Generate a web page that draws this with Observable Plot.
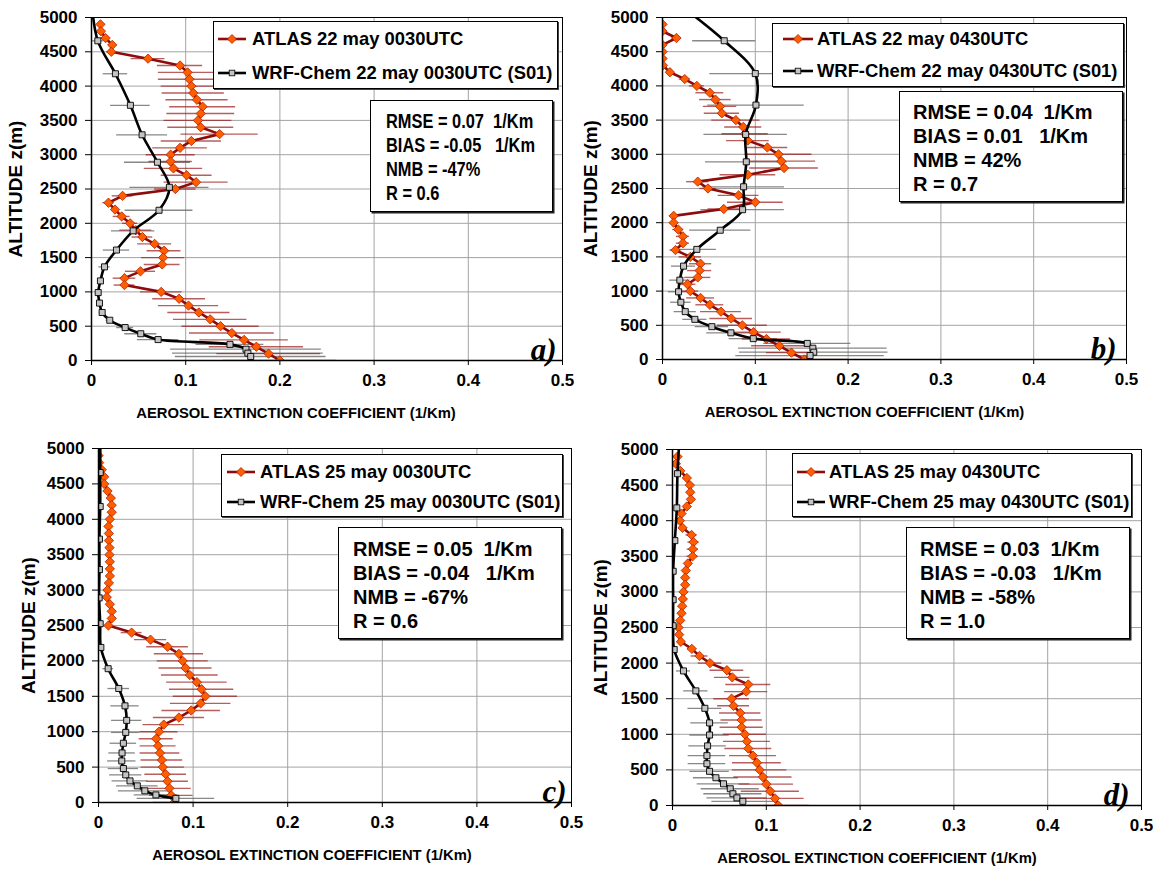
<!DOCTYPE html>
<html><head><meta charset="utf-8">
<script src="https://cdn.jsdelivr.net/npm/d3@7"></script>
<script src="https://cdn.jsdelivr.net/npm/@observablehq/plot@0.6"></script>
<style>
body{margin:0;background:#fff;}
#root{position:relative;width:1163px;height:874px;overflow:hidden;font-family:"Liberation Sans",Arial,sans-serif;font-weight:bold;color:#000;}
.panel{position:absolute;}
.box{position:absolute;background:#fff;border:1px solid #000;box-sizing:border-box;}
.legtxt{position:absolute;white-space:nowrap;font-size:18.4px;line-height:20px;}
.legsym{position:absolute;}
.stat{position:absolute;white-space:pre;font-size:20px;line-height:24px;transform-origin:0 50%;}
</style></head><body><div id="root"></div>
<script>
// ---------- data ----------
const xTicks = [0, 0.1, 0.2, 0.3, 0.4, 0.5];
const yTicks = [0, 500, 1000, 1500, 2000, 2500, 3000, 3500, 4000, 4500, 5000];

const atlasAlt = [4900,4800,4700,4600,4500,4400,4300,4200,4100,4000,3900,3800,3700,3600,3500,3400,3300,3200,3100,3000,2900,2800,2700,2600,2500,2400,2300,2200,2100,2000,1900,1800,1700,1600,1500,1400,1300,1200,1100,1000,900,800,700,600,500,400,300,200,100,0];
const wrfAlt = [5150,4660,4180,3720,3290,2890,2525,2190,1890,1610,1365,1160,990,837,700,587,480,390,305,235,165,107,58];

// panel a) 22 may 0030UTC
const atlasA = [0.0095,0.010,0.015,0.022,0.021,0.060,0.094,0.102,0.104,0.106,0.108,0.112,0.118,0.116,0.113,0.116,0.136,0.106,0.094,0.084,0.084,0.087,0.101,0.111,0.089,0.033,0.018,0.025,0.032,0.041,0.047,0.054,0.067,0.077,0.076,0.075,0.052,0.035,0.035,0.074,0.093,0.103,0.114,0.126,0.137,0.149,0.162,0.175,0.188,0.200];
const atlasErrA = [0.003,0.003,0.004,0.004,0.005,0.018,0.024,0.031,0.033,0.032,0.033,0.033,0.035,0.036,0.036,0.035,0.041,0.032,0.029,0.026,0.023,0.031,0.027,0.034,0.022,0.011,0.006,0.004,0.009,0.008,0.017,0.011,0.018,0.018,0.023,0.019,0.016,0.012,0.011,0.022,0.028,0.032,0.033,0.039,0.041,0.045,0.047,0.050,0.055,0.060];
const wrfA = [0.0007,0.0067,0.0254,0.0413,0.0537,0.070,0.0827,0.0717,0.0442,0.0265,0.0138,0.0095,0.0071,0.0085,0.0113,0.0194,0.0357,0.0523,0.0707,0.147,0.164,0.166,0.169];
const wrfErrA = [0,0.006,0.013,0.021,0.027,0.035,0.042,0.036,0.023,0.014,0.006,0.003,0.002,0.002,0.003,0.004,0.009,0.017,0.022,0.036,0.080,0.080,0.080];

// panel b) 22 may 0430UTC
const atlasB = [0,0,0.015,0,0,0,0.0005,0.008,0.024,0.037,0.051,0.057,0.062,0.064,0.079,0.087,0.089,0.092,0.113,0.125,0.128,0.131,0.092,0.038,0.049,0.082,0.100,0.066,0.012,0.012,0.017,0.022,0.022,0.014,0.030,0.041,0.040,0.038,0.027,0.030,0.041,0.051,0.063,0.074,0.086,0.098,0.112,0.126,0.139,0.153];
const atlasErrB = [0.001,0.001,0.005,0.001,0.001,0.001,0.002,0.004,0.006,0.008,0.015,0.017,0.018,0.019,0.026,0.020,0.025,0.023,0.022,0.036,0.037,0.037,0.030,0.012,0.009,0.022,0.030,0.017,0.004,0.004,0.006,0.007,0.007,0.006,0.012,0.012,0.013,0.014,0.009,0.009,0.015,0.015,0.022,0.023,0.027,0.030,0.026,0.030,0.027,0.047];
const wrfB = [0.022,0.0665,0.100,0.1007,0.0896,0.0903,0.0874,0.0863,0.0622,0.037,0.0227,0.0187,0.0173,0.0198,0.0245,0.0349,0.0532,0.0737,0.0978,0.156,0.162,0.163,0.159];
const wrfErrB = [0,0.034,0.049,0.052,0.045,0.044,0.044,0.045,0.033,0.021,0.013,0.011,0.011,0.011,0.012,0.013,0.018,0.026,0.026,0.047,0.080,0.080,0.080];

// panel c) 25 may 0030UTC
const atlasC = [0,0.0007,0.0035,0.006,0.006,0.0095,0.013,0.014,0.014,0.012,0.0105,0.011,0.011,0.0116,0.0116,0.012,0.012,0.012,0.011,0.0095,0.0088,0.012,0.014,0.014,0.0105,0.035,0.055,0.073,0.085,0.089,0.092,0.0965,0.104,0.109,0.113,0.108,0.098,0.085,0.069,0.064,0.061,0.063,0.065,0.067,0.068,0.071,0.073,0.075,0.077,0.080];
const atlasErrC = [0.002,0.002,0.003,0.003,0.003,0.004,0.004,0.004,0.004,0.003,0.003,0.003,0.003,0.003,0.003,0.003,0.003,0.003,0.003,0.003,0.003,0.003,0.003,0.003,0.003,0.011,0.017,0.022,0.026,0.027,0.028,0.030,0.032,0.034,0.034,0.032,0.031,0.027,0.022,0.020,0.018,0.019,0.021,0.022,0.023,0.022,0.022,0.023,0.023,0.022];
const wrfC = [0.002,0.0018,0.0018,0.001,0.001,0.0007,0.0018,0.0025,0.0102,0.0214,0.028,0.0298,0.0288,0.0263,0.0249,0.0246,0.0263,0.0288,0.0333,0.041,0.049,0.0607,0.0818];
const wrfErrC = [0,0.001,0.001,0.001,0.001,0.001,0.001,0.001,0.0056,0.0114,0.015,0.016,0.015,0.014,0.014,0.015,0.016,0.017,0.019,0.022,0.028,0.023,0.041];

// panel d) 25 may 0430UTC
const atlasD = [0.0053,0.0036,0.0082,0.0153,0.0185,0.0189,0.0196,0.0153,0.0096,0.0078,0.0107,0.0203,0.0224,0.0217,0.0214,0.0164,0.0142,0.0135,0.0135,0.0117,0.011,0.0103,0.0096,0.0082,0.0064,0.0071,0.0089,0.0206,0.0288,0.040,0.058,0.0637,0.0808,0.0786,0.063,0.0651,0.0722,0.0737,0.0737,0.0772,0.0794,0.0808,0.0858,0.090,0.0929,0.0964,0.100,0.1043,0.1093,0.1128];
const atlasErrD = [0.003,0.003,0.003,0.003,0.003,0.003,0.003,0.003,0.003,0.003,0.004,0.006,0.006,0.006,0.006,0.003,0.002,0.002,0.002,0.002,0.002,0.002,0.002,0.002,0.002,0.002,0.002,0.0045,0.009,0.0125,0.018,0.019,0.024,0.023,0.019,0.017,0.022,0.022,0.023,0.023,0.025,0.025,0.025,0.026,0.029,0.031,0.029,0.031,0.031,0.033];
const wrfD = [0.0075,0.0053,0.0046,0.0025,0.0007,0.0007,0.0007,0.0018,0.0117,0.0249,0.0345,0.0395,0.0395,0.0374,0.0367,0.0367,0.0395,0.0463,0.0544,0.0616,0.0644,0.0687,0.075];
const wrfErrD = [0,0.001,0.001,0.002,0.001,0.001,0.001,0.001,0.0075,0.013,0.018,0.020,0.021,0.020,0.020,0.020,0.021,0.024,0.028,0.031,0.031,0.032,0.033];

const atlasLabels = ["ATLAS 22 may 0030UTC","ATLAS 22 may 0430UTC","ATLAS 25 may 0030UTC","ATLAS 25 may 0430UTC"];
const wrfLabels = ["WRF-Chem 22 may 0030UTC (S01)","WRF-Chem 22 may 0430UTC (S01)","WRF-Chem 25 may 0030UTC (S01)","WRF-Chem 25 may 0430UTC (S01)"];
const statsLines = [
  ["RMSE = 0.07  1/Km","BIAS = -0.05   1/Km","NMB = -47%","R = 0.6"],
  ["RMSE = 0.04  1/Km","BIAS = 0.01   1/Km","NMB = 42%","R = 0.7"],
  ["RMSE = 0.05  1/Km","BIAS = -0.04   1/Km","NMB = -67%","R = 0.6"],
  ["RMSE = 0.03  1/Km","BIAS = -0.03   1/Km","NMB = -58%","R = 1.0"]
];
const panelLetters = ["a)","b)","c)","d)"];
const xTitle = "AEROSOL EXTINCTION COEFFICIENT (1/Km)";
const yTitle = "ALTITUDE z(m)";

// ---------- layout ----------
const layouts = [
  {left:0,top:0,w:580,h:430,ml:91,mr:18,mt:17,mb:70,xdx:-31,ydx:-76,ldx:-6,ldy:-1,
   leg:{x:213,y:21,w:345,h:68,r1:39,r2:73,sx:218,sw:28,tx:252},
   st:{x:370,y:100,w:183,h:112,tx:386,sx:0.82,rows:[121,145,169,193]}},
  {left:580,top:0,w:583,h:430,ml:82,mr:37,mt:17,mb:71,xdx:-30,ydx:-72,ldx:-10,ldy:-1,
   leg:{x:772,y:23,w:352,h:64,r1:39,r2:71,sx:783,sw:30,tx:817},
   st:{x:899,y:91,w:224,h:111,tx:913,sx:1,rows:[112,136,160,184]}},
  {left:0,top:430,w:580,h:444,ml:98,mr:9,mt:18,mb:72,xdx:-23,ydx:-70,ldx:-5,ldy:-1,
   leg:{x:221,y:454,w:342,h:63,r1:472,r2:502,sx:227,sw:28,tx:260},
   st:{x:338,y:527,w:224,h:112,tx:353,sx:1,rows:[549,573,597,621]}},
  {left:580,top:430,w:583,h:444,ml:92,mr:22,mt:19,mb:69,xdx:-30,ydx:-72,ldx:-12,ldy:-1,
   leg:{x:792,y:453,w:340,h:64,r1:472,r2:502,sx:797,sw:28,tx:829},
   st:{x:906,y:527,w:224,h:112,tx:920,sx:1,rows:[549,573,597,621]}}
];
const series = [
  [atlasA, atlasErrA, wrfA, wrfErrA],
  [atlasB, atlasErrB, wrfB, wrfErrB],
  [atlasC, atlasErrC, wrfC, wrfErrC],
  [atlasD, atlasErrD, wrfD, wrfErrD]
];

const RED = "#8c0c0c", ORANGE = "#ff5e00", GRID = "#a3a3a3";
const root = document.getElementById("root");

series.forEach(([av, ae, wv, we], k) => {
  const L = layouts[k];
  const atlas = atlasAlt.map((alt, i) => ({alt, v: av[i], e: ae[i]}));
  const wrf = wrfAlt.map((alt, i) => ({alt, v: wv[i], e: we[i]}));
  const chart = Plot.plot({
    width: L.w, height: L.h,
    marginLeft: L.ml, marginRight: L.mr, marginTop: L.mt, marginBottom: L.mb,
    x: {domain: [0, 0.5]},
    y: {domain: [0, 5000]},
    style: {fontFamily: "'Liberation Sans', Arial, sans-serif", fontSize: "17px", fontWeight: "bold", background: "transparent", overflow: "visible"},
    marks: [
      Plot.gridX(xTicks, {stroke: GRID, strokeOpacity: 1, strokeWidth: 1}),
      Plot.gridY(yTicks, {stroke: GRID, strokeOpacity: 1, strokeWidth: 1}),
      Plot.ruleY(wrf, {y: "alt", x1: d => d.v - d.e, x2: d => d.v + d.e, stroke: "#6a6a6a", strokeOpacity: 0.8, strokeWidth: 1.3, clip: true}),
      Plot.ruleY(atlas, {y: "alt", x1: d => d.v - d.e, x2: d => d.v + d.e, stroke: "#9a1a1a", strokeOpacity: 0.7, strokeWidth: 1.4, clip: true}),
      Plot.line(atlas, {x: "v", y: "alt", stroke: RED, strokeWidth: 2.6, clip: true}),
      Plot.dot(atlas, {x: "v", y: "alt", symbol: "diamond2", r: 4.2, fill: ORANGE, stroke: "#b02000", strokeWidth: 0.8, clip: true}),
      Plot.line(wrf, {x: "v", y: "alt", curve: "catmull-rom", stroke: "#000", strokeWidth: 2.6, clip: true}),
      Plot.dot(wrf, {x: "v", y: "alt", symbol: "square", r: 3.4, fill: "#c4c4c4", stroke: "#000", strokeWidth: 0.9, clip: true}),
      Plot.frame({stroke: "#000", strokeWidth: 1}),
      Plot.axisX({ticks: xTicks, tickSize: 5, tickPadding: 8, label: null, tickFormat: d => d === 0 ? "0" : d.toFixed(1)}),
      Plot.axisY({ticks: yTicks, tickSize: 6, tickPadding: 8, label: null, tickFormat: d => String(d)}),
      Plot.ruleX([0], {stroke: "#000", strokeWidth: 1.5}),
      Plot.ruleY([0], {stroke: "#000", strokeWidth: 1.5}),
      Plot.text([xTitle], {text: d => d, frameAnchor: "bottom", lineAnchor: "middle", dx: L.xdx, dy: 53, fontSize: 14.8, fontWeight: "bold"}),
      Plot.text([yTitle], {text: d => d, frameAnchor: "left", rotate: -90, textAnchor: "middle", lineAnchor: "middle", dx: L.ydx, fontSize: 19, fontWeight: "bold"}),
      Plot.text([panelLetters[k]], {text: d => d, frameAnchor: "bottom-right", dx: L.ldx, dy: L.ldy, fontFamily: "'Liberation Serif', 'DejaVu Serif', serif", fontStyle: "italic", fontWeight: "bold", fontSize: 31})
    ]
  });
  chart.classList.add("panel");
  chart.style.left = L.left + "px";
  chart.style.top = L.top + "px";
  root.appendChild(chart);

  // legend box
  const g = L.leg;
  const leg = document.createElement("div");
  leg.className = "box";
  Object.assign(leg.style, {left: g.x + "px", top: g.y + "px", width: g.w + "px", height: g.h + "px", boxShadow: "1px 1px 0 #444"});
  root.appendChild(leg);
  const rows = [[atlasLabels[k], g.r1, "atlas"], [wrfLabels[k], g.r2, "wrf"]];
  rows.forEach(([label, cy, kind]) => {
    const s = document.createElementNS("http://www.w3.org/2000/svg", "svg");
    s.setAttribute("width", g.sw); s.setAttribute("height", 14);
    s.setAttribute("class", "legsym");
    s.style.left = (g.sx - g.x - 1) + "px"; s.style.top = (cy - g.y - 8) + "px";
    const mid = g.sw / 2;
    if (kind === "atlas") {
      s.innerHTML = `<line x1="0" x2="${g.sw}" y1="7" y2="7" stroke="${RED}" stroke-width="2.6"/>` +
        `<path d="M${mid},2.5L${mid+4.5},7L${mid},11.5L${mid-4.5},7Z" fill="${ORANGE}" stroke="#b02000" stroke-width="0.8"/>`;
    } else {
      s.innerHTML = `<line x1="0" x2="${g.sw}" y1="7" y2="7" stroke="#000" stroke-width="2.6"/>` +
        `<rect x="${mid-2.8}" y="4.2" width="5.6" height="5.6" fill="#c4c4c4" stroke="#000" stroke-width="0.8"/>`;
    }
    leg.appendChild(s);
    const t = document.createElement("div");
    t.className = "legtxt";
    t.textContent = label;
    t.style.left = (g.tx - g.x - 1) + "px";
    t.style.top = (cy - g.y - 11) + "px";
    leg.appendChild(t);
  });

  // stats box
  const st = L.st;
  const sb = document.createElement("div");
  sb.className = "box";
  Object.assign(sb.style, {left: st.x + "px", top: st.y + "px", width: st.w + "px", height: st.h + "px", boxShadow: "1.5px 1.5px 0 #222"});
  root.appendChild(sb);
  statsLines[k].forEach((line, i) => {
    const t = document.createElement("div");
    t.className = "stat";
    t.textContent = line;
    t.style.left = (st.tx - st.x - 1) + "px";
    t.style.top = (st.rows[i] - st.y - 13) + "px";
    if (st.sx !== 1) t.style.transform = `scaleX(${st.sx})`;
    sb.appendChild(t);
  });
});
</script></body></html>
